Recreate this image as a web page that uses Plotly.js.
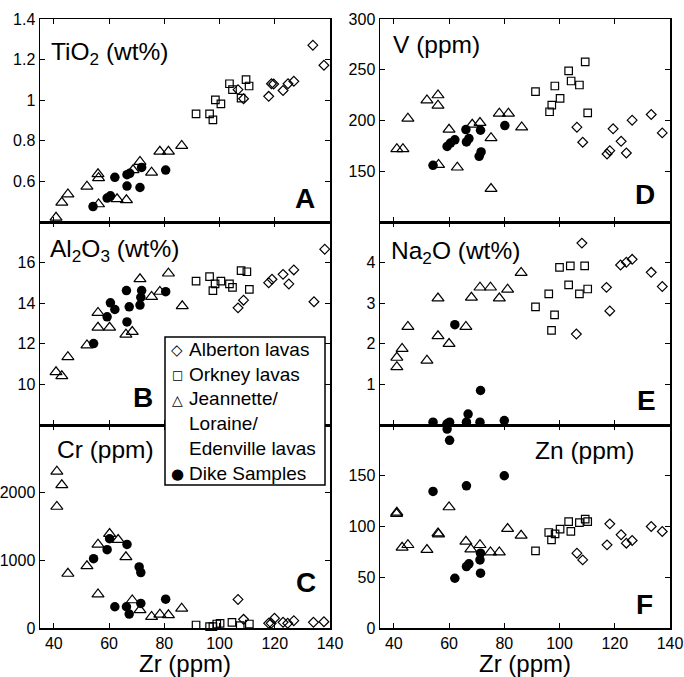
<!DOCTYPE html>
<html><head><meta charset="utf-8">
<script src="https://cdn.plot.ly/plotly-3.0.1.min.js"></script>
<style>html,body{margin:0;padding:0;background:#fff}#chart{width:684px;height:677px}</style>
</head><body><div id="chart"></div>
<script>
// ---------------- DATA (Zr in ppm on x) ----------------
// Panel A: TiO2 (wt%)
const A_alb_zr = [133.8, 137.8, 117.8, 118.8, 119.6, 123.0, 124.8, 126.9, 106.7, 108.7];
const A_alb    = [1.271, 1.172, 1.019, 1.081, 1.080, 1.048, 1.081, 1.093, 1.052, 1.007];
const A_ork_zr = [91.5, 96.4, 97.6, 98.5, 100.5, 103.6, 104.7, 107.8, 109.6, 110.7];
const A_ork    = [0.933, 0.933, 0.903, 1.002, 0.982, 1.081, 1.052, 1.010, 1.101, 1.070];
const A_jea_zr = [40.8, 42.9, 45.1, 52.0, 56.0, 56.2, 56.2, 62.9, 66.3, 68.7, 71.2, 75.4, 78.4, 81.5, 86.3];
const A_jea    = [0.422, 0.496, 0.537, 0.575, 0.636, 0.617, 0.488, 0.513, 0.508, 0.656, 0.697, 0.644, 0.747, 0.747, 0.776];
const A_dik_zr = [54.2, 59.3, 60.5, 62.1, 66.5, 67.5, 66.5, 71.2, 71.8, 80.5];
const A_dik    = [0.476, 0.518, 0.529, 0.620, 0.633, 0.640, 0.577, 0.570, 0.669, 0.656];

// Panel B: Al2O3 (wt%)
const B_alb_zr = [106.7, 108.7, 117.8, 119.0, 123.0, 125.1, 126.9, 134.2, 138.1];
const B_alb    = [13.77, 14.15, 15.01, 15.18, 15.42, 14.95, 15.64, 14.07, 16.66];
const B_ork_zr = [91.5, 96.4, 97.6, 98.4, 100.5, 103.6, 104.7, 107.8, 109.9, 110.8];
const B_ork    = [15.09, 15.31, 14.62, 14.95, 15.09, 14.95, 14.78, 15.60, 15.55, 14.68];
const B_jea_zr = [40.8, 42.9, 45.1, 52.0, 56.0, 56.0, 60.2, 66.1, 68.4, 71.2, 75.4, 78.4, 81.5, 86.5];
const B_jea    = [10.61, 10.41, 11.35, 11.93, 13.53, 12.80, 12.80, 12.46, 12.59, 15.19, 14.32, 14.57, 15.47, 13.86];
const B_dik_zr = [54.4, 59.3, 60.5, 62.1, 66.3, 67.3, 66.5, 71.8, 71.5, 71.2, 80.5];
const B_dik    = [12.01, 13.33, 14.02, 13.69, 14.62, 13.82, 13.08, 14.62, 14.29, 13.91, 14.57];

// Panel C: Cr (ppm)
const C_alb_zr = [106.7, 108.7, 117.8, 118.7, 119.9, 123.0, 124.7, 126.9, 134.0, 137.8];
const C_alb    = [422, 128, 69, 69, 143, 84, 69, 108, 84, 93];
const C_ork_zr = [91.5, 96.4, 97.6, 99.0, 100.2, 104.5, 107.5, 110.8];
const C_ork    = [44, 20, 20, 59, 69, 83, 34, 59];
const C_jea_zr = [41.1, 42.9, 41.1, 45.1, 52.0, 56.0, 56.0, 60.2, 63.3, 66.1, 68.4, 71.2, 75.4, 78.4, 81.5, 86.3];
const C_jea    = [2313, 2113, 1794, 804, 916, 1235, 500, 1392, 1304, 1049, 412, 265, 167, 201, 191, 289];
const C_dik_zr = [54.4, 59.3, 60.2, 66.5, 70.9, 71.5, 62.1, 66.3, 67.3, 71.5, 80.5];
const C_dik    = [1025, 1157, 1319, 1235, 902, 819, 314, 314, 206, 363, 426];

// Panel D: V (ppm)
const D_alb_zr = [106.3, 108.4, 117.2, 118.2, 119.4, 122.3, 124.2, 126.3, 133.2, 137.2];
const D_alb    = [193.4, 178.6, 167.0, 170.3, 191.8, 179.5, 168.0, 200.3, 205.9, 187.8];
const D_ork_zr = [91.3, 96.4, 97.2, 98.3, 100.2, 103.3, 104.2, 107.2, 109.3, 110.2];
const D_ork    = [228.4, 208.6, 215.2, 234.0, 221.8, 248.8, 238.9, 235.0, 257.8, 207.6];
const D_jea_zr = [41.1, 43.3, 45.1, 52.0, 56.0, 56.0, 56.2, 60.0, 63.0, 68.4, 71.2, 75.2, 75.2, 78.2, 81.5, 86.3];
const D_jea    = [172.0, 172.0, 202.0, 220.0, 225.0, 214.8, 156.4, 191.1, 153.8, 196.0, 197.7, 182.8, 132.7, 206.9, 206.9, 193.4];
const D_dik_zr = [54.2, 59.3, 60.5, 62.1, 66.1, 66.3, 67.2, 70.9, 71.4, 71.6, 80.2];
const D_dik    = [155.8, 174.5, 177.8, 181.0, 191.1, 178.9, 182.2, 164.7, 190.4, 169.0, 195.0];

// Panel E: Na2O (wt%)
const E_alb_zr = [106.1, 108.1, 117.0, 118.2, 122.1, 124.2, 126.3, 133.2, 137.2];
const E_alb    = [2.24, 4.48, 3.39, 2.81, 3.94, 4.01, 4.08, 3.76, 3.41];
const E_ork_zr = [91.3, 96.1, 98.2, 97.1, 100.0, 103.3, 103.9, 107.2, 109.1, 110.2];
const E_ork    = [2.91, 3.23, 2.71, 2.33, 3.88, 3.45, 3.92, 3.23, 3.92, 3.35];
const E_jea_zr = [41.1, 41.1, 43.0, 45.1, 52.0, 56.0, 56.0, 60.0, 66.1, 68.1, 71.2, 75.0, 78.2, 81.2, 86.1];
const E_jea    = [1.66, 1.43, 1.88, 2.42, 1.59, 3.12, 2.19, 2.00, 2.42, 3.14, 3.39, 3.39, 3.12, 3.34, 3.75];
const E_dik_zr = [54.2, 59.3, 60.2, 62.1, 66.3, 66.9, 71.2, 71.4, 80.0, 59.3];
const E_dik    = [0.07, 0.03, 0.07, 2.47, 0.07, 0.27, 0.07, 0.85, 0.11, 0.01];

// Panel F: Zn (ppm)
const F_alb_zr = [106.3, 108.4, 117.2, 118.2, 122.3, 124.2, 126.3, 133.2, 137.2];
const F_alb    = [73.7, 67.1, 81.9, 102.6, 91.8, 83.6, 86.2, 100.0, 95.1];
const F_ork_zr = [91.3, 96.1, 97.1, 98.4, 100.2, 103.3, 104.1, 107.2, 109.3, 110.2];
const F_ork    = [76.0, 94.1, 86.8, 92.8, 97.4, 104.9, 95.1, 103.9, 107.2, 104.9];
const F_jea_zr = [41.1, 41.0, 43.0, 45.1, 52.0, 56.0, 56.2, 60.0, 66.1, 67.9, 71.2, 75.0, 78.2, 81.2, 86.1];
const F_jea    = [113.8, 112.5, 79.3, 81.9, 77.0, 93.4, 92.4, 119.1, 85.2, 77.6, 81.9, 74.7, 74.7, 97.7, 91.1];
const F_dik_zr = [54.2, 59.3, 60.2, 62.1, 66.3, 66.3, 67.2, 71.2, 71.4, 71.4, 80.0];
const F_dik    = [134.5, 196.0, 184.9, 49.0, 140.1, 60.5, 63.2, 67.1, 73.7, 54.0, 150.0];

const groupNames = ['Alberton lavas', 'Orkney lavas', 'Jeannette/<br>Loraine/<br>Edenville lavas', 'Dike Samples'];
const legendSymbols = ['\u25C7', '\u25A1', '\u25B3', '\u25CF'];
const xTicks = [40, 60, 80, 100, 120, 140];

// ---------------- LAYOUT HELPERS ----------------
const W = 684, H = 677, ML = 40, MR = 14, MT = 19, MB = 49;
const PW = W - ML - MR, PH = H - MT - MB;
const px = x => (x - ML) / PW;
const py = y => (H - MB - y) / PH;

const styles = [
  {symbol: 'diamond-open', size: 7.5, line: {color: '#000', width: 1.2}, color: '#000'},
  {symbol: 'square-open', size: 7.5, line: {color: '#000', width: 1.2}, color: '#000'},
  {symbol: 'triangle-up-open', size: 10.5, line: {color: '#000', width: 1.2}, color: '#000'},
  {symbol: 'circle', size: 9.5, line: {color: '#000', width: 0}, color: '#000'}
];

const panels = [
  {ax: '', d: [[A_alb_zr, A_alb], [A_ork_zr, A_ork], [A_jea_zr, A_jea], [A_dik_zr, A_dik]]},
  {ax: '2', d: [[B_alb_zr, B_alb], [B_ork_zr, B_ork], [B_jea_zr, B_jea], [B_dik_zr, B_dik]]},
  {ax: '3', d: [[C_alb_zr, C_alb], [C_ork_zr, C_ork], [C_jea_zr, C_jea], [C_dik_zr, C_dik]]},
  {ax: '4', d: [[D_alb_zr, D_alb], [D_ork_zr, D_ork], [D_jea_zr, D_jea], [D_dik_zr, D_dik]]},
  {ax: '5', d: [[E_alb_zr, E_alb], [E_ork_zr, E_ork], [E_jea_zr, E_jea], [E_dik_zr, E_dik]]},
  {ax: '6', d: [[F_alb_zr, F_alb], [F_ork_zr, F_ork], [F_jea_zr, F_jea], [F_dik_zr, F_dik]]}
];

const traces = [];
panels.forEach((p, pi) => {
  p.d.forEach((xy, gi) => {
    traces.push({
      type: 'scatter', mode: 'markers',
      x: xy[0], y: xy[1],
      xaxis: 'x' + p.ax, yaxis: 'y' + p.ax,
      name: groupNames[gi].replace(/<br>/g, ' '),
      showlegend: false,
      cliponaxis: false,
      marker: styles[gi],
      hoverinfo: 'x+y'
    });
  });
});

const FONT = 'Liberation Sans, Arial, Helvetica, sans-serif';
function mkX(domain, labels, anchor) {
  const a = {
    domain: domain, range: [35, 140], tickvals: xTicks, anchor: anchor,
    showticklabels: labels, ticks: 'inside', ticklen: 5, tickwidth: 1, tickcolor: '#000',
    showline: true, linecolor: '#000', linewidth: 1.5, mirror: 'ticks',
    showgrid: false, zeroline: false,
    tickfont: {family: FONT, size: 16, color: '#000'}
  };
  if (labels) a.title = {text: 'Zr (ppm)', font: {family: FONT, size: 24, color: '#000'}, standoff: 6};
  return a;
}
function mkY(domain, range, tv, anchor) {
  return {
    domain: domain, range: range, tickvals: tv, anchor: anchor,
    ticks: 'inside', ticklen: 5, tickwidth: 1, tickcolor: '#000',
    showline: true, linecolor: '#000', linewidth: 1.5, mirror: 'ticks',
    showgrid: false, zeroline: false,
    tickfont: {family: FONT, size: 16, color: '#000'}
  };
}
const LX = [0, 290 / PW], RX = [340 / PW, 1];
const dTop = [2 / 3, 1], dMid = [1 / 3, 2 / 3], dBot = [0, 1 / 3];

function ann(text, x, y, size, bold, anchor, yanchor, family) {
  return {
    xref: 'paper', yref: 'paper', x: px(x), y: py(y),
    xanchor: anchor || 'left', yanchor: yanchor || 'middle', showarrow: false,
    text: bold ? '<b>' + text + '</b>' : text, align: 'left', borderpad: 0,
    font: {family: family || FONT, size: size, color: '#000'}
  };
}

const LEG_FS = 19, LEG_LH = LEG_FS * 1.3, LEG_TOP = 338;
const annotations = [
  ann('TiO<sub>2</sub> (wt%)', 50, 53, 24.5),
  ann('V (ppm)', 392, 45, 24.5),
  ann('Al<sub>2</sub>O<sub>3</sub> (wt%)', 49, 250, 24.5),
  ann('Na<sub>2</sub>O (wt%)', 390, 252, 24.5),
  ann('Cr (ppm)', 56, 449, 24.5),
  ann('Zn (ppm)', 534, 450, 24.5),
  ann('A', 305, 199, 28, true, 'center'),
  ann('B', 143, 397, 28, true, 'center'),
  ann('C', 306, 582, 28, true, 'center'),
  ann('D', 645, 194, 28, true, 'center'),
  ann('E', 646, 400, 28, true, 'center'),
  ann('F', 644, 604, 28, true, 'center'),
  // legend text column
  ann(groupNames.join('<br>'), 188, LEG_TOP, LEG_FS, false, 'left', 'top')
];
// legend symbol column (rows 1, 2, 3 and 6 of the text column)
const symRows = [0, 1, 2, 5], symSizes = [15, 12, 14, 15];
legendSymbols.forEach((s, i) => {
  annotations.push(ann(s, 177, LEG_TOP + LEG_LH / 2 + symRows[i] * LEG_LH, symSizes[i], false, 'center', 'middle', 'DejaVu Sans'));
});

const layout = {
  width: W, height: H,
  margin: {l: ML, r: MR, t: MT, b: MB, pad: 0},
  paper_bgcolor: '#fff', plot_bgcolor: '#fff',
  font: {family: FONT, color: '#000'},
  xaxis: mkX(LX, false, 'y'), yaxis: mkY(dTop, [0.4, 1.4], [0.6, 0.8, 1, 1.2, 1.4], 'x'),
  xaxis2: mkX(LX, false, 'y2'), yaxis2: mkY(dMid, [8, 18], [10, 12, 14, 16], 'x2'),
  xaxis3: mkX(LX, true, 'y3'), yaxis3: mkY(dBot, [0, 3000], [0, 1000, 2000], 'x3'),
  xaxis4: mkX(RX, false, 'y4'), yaxis4: mkY(dTop, [100, 300], [150, 200, 250, 300], 'x4'),
  xaxis5: mkX(RX, false, 'y5'), yaxis5: mkY(dMid, [0, 5], [1, 2, 3, 4], 'x5'),
  xaxis6: mkX(RX, true, 'y6'), yaxis6: mkY(dBot, [0, 200], [0, 50, 100, 150], 'x6'),
  showlegend: false,
  shapes: [{
    type: 'rect', xref: 'paper', yref: 'paper', layer: 'above',
    x0: px(165), x1: px(325), y0: py(337), y1: py(485),
    fillcolor: '#fff', line: {color: '#000', width: 1.5}
  }],
  annotations: annotations
};

Plotly.newPlot('chart', traces, layout, {staticPlot: true, displayModeBar: false});
</script>
</body></html>
